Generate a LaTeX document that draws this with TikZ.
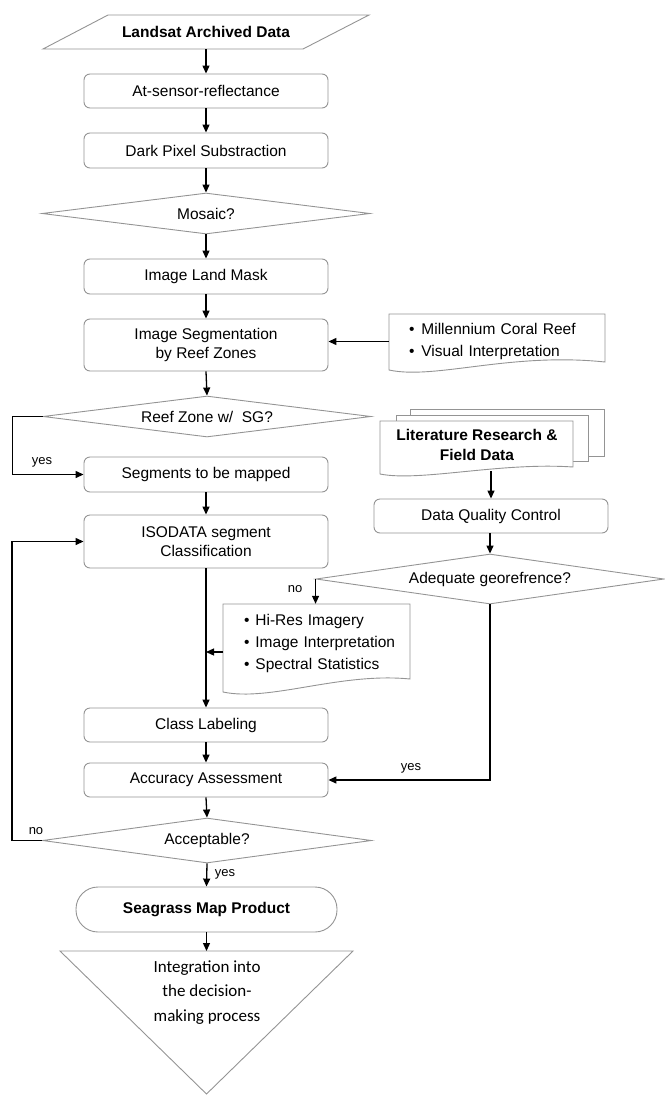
\documentclass[tikz,border=0pt]{standalone}
\usepackage{fontspec}
\setmainfont{Liberation Sans}
\newfontfamily\carl{Carlito}
\usetikzlibrary{shapes.geometric,arrows.meta,calc}
\begin{document}
\begin{tikzpicture}[x=1pt,y=-1pt,
  every node/.style={font=\fontsize{15.5}{19.5}\selectfont, inner sep=0pt},
  bord/.style={draw=black!42, line width=0.9pt},
  proc/.style={bord, rounded corners=6pt, minimum width=244pt, minimum height=34pt, align=center},
  dec/.style={bord, diamond, inner sep=0pt},
  bf/.style={font=\fontsize{15.5}{20.5}\selectfont\bfseries},
  arr/.style={line width=1.3pt, -{Triangle[length=8pt,width=7pt]}},
  lbl/.style={font=\fontsize{13}{15}\selectfont}
]
\useasboundingbox (0,0) rectangle (664,1095);

% Landsat input (parallelogram)
\draw[bord] (108,15) -- (369,15) -- (303,49) -- (43,49) -- cycle;
\node[bf, minimum height=34pt, minimum width=200pt] (land) at (206,32) {Landsat Archived Data};

\node[proc] (at) at (206,91) {At-sensor-reflectance};
\node[proc, minimum height=35pt] (dark) at (206,150.5) {Dark Pixel Substraction};
\node[dec, minimum width=328pt, minimum height=41pt, aspect=8] (mosaic) at (206,213.5) {Mosaic?};
\node[proc, minimum height=35pt] (mask) at (206,276.5) {Image Land Mask};
\node[proc, minimum height=52pt] (seg) at (206,345) {Image Segmentation\\by Reef Zones};

% Millennium document
\draw[bord, fill=white] (389,314) -- (605,314) -- (605,362) .. controls (510,352) and (435,380) .. (389,370) -- cycle;
\node[align=left, text width=176pt, minimum width=216pt, minimum height=48pt,
  font=\fontsize{15.5}{21.5}\selectfont] (mill) at (497,341.5)
  {\textbullet\hspace{7pt}Millennium Coral Reef\\\textbullet\hspace{7pt}Visual Interpretation};

\node[dec, minimum width=328pt, minimum height=41pt, aspect=8] (reef) at (207,416.5) {Reef Zone w/\ \ SG?};
\node[proc, minimum height=35pt] (segm) at (206,474.5) {Segments to be mapped};
\node[proc, minimum height=53pt] (iso) at (206,541.5) {ISODATA segment\\Classification};

% Literature stack
\draw[bord, fill=white] (410,409) rectangle (604,456);
\draw[bord, fill=white] (396,415) rectangle (588,461);
\draw[bord, fill=white] (380,421) -- (573,421) -- (573,467) .. controls (500,462) and (420,482) .. (380,474) -- cycle;
\node[bf, align=center, minimum height=52pt] (lit) at (477,445) {Literature Research \&\\Field Data};

\node[proc, minimum width=234pt] (dqc) at (491,516) {Data Quality Control};
\node[dec, minimum width=348pt, minimum height=50pt, aspect=7] (adeq) at (490,579) {Adequate georefrence?};

% Hi-Res document
\draw[bord] (223,604) -- (410,604) -- (410,679) .. controls (340,672) and (270,702) .. (223,692) -- cycle;
\node[align=left, text width=164pt, minimum width=187pt, minimum height=79pt,
  font=\fontsize{15.5}{22}\selectfont] (hires) at (326,643.5)
  {\textbullet\hspace{6pt}Hi-Res Imagery\\\textbullet\hspace{6pt}Image Interpretation\\\textbullet\hspace{6pt}Spectral Statistics};
\coordinate (hiresw) at (223,652);

\node[proc] (cls) at (206,725) {Class Labeling};
\node[proc] (acc) at (206,780) {Accuracy Assessment};
\node[dec, minimum width=329pt, minimum height=45pt, aspect=7.3] (accept) at (207,840.5) {Acceptable?};

\node[bord, bf, rounded corners=22pt, minimum width=261pt, minimum height=45pt] (sea) at (206.5,909.5) {Seagrass Map Product};

% Integration triangle
\draw[bord] (60,951) -- (353,951) -- (206.5,1094) -- cycle;
\coordinate (intop) at (206.5,951);
\node[font=\carl\fontsize{17}{24.5}\selectfont, align=center] (integ) at (207,992.5)
  {Integration into\\the decision-\\making process};

% connectors
\draw[arr] (land.south) -- (at.north);
\draw[arr] (at.south) -- (dark.north);
\draw[arr] (dark.south) -- (mosaic.north);
\draw[arr] (mosaic.south) -- (mask.north);
\draw[arr] (mask.south) -- (seg.north);
\draw[arr] (mill.west) -- (mill.west -| seg.east);
\draw[arr] (seg.south) -- (reef.north);
\draw[arr] (reef.west) -- ++(-30,0) |- (segm.west);
\node[lbl] (yes1) at (42,462) {yes};
\draw[arr] (segm.south) -- (iso.north);
\draw[arr] (iso.south) -- (cls.north);
\draw[arr] (hiresw) -- (hiresw -| iso.south);
\draw[arr] (lit.south -| dqc.north) -- (dqc.north);
\draw[arr] (dqc.south -| adeq.north) -- (adeq.north);
\draw[arr] (adeq.west) -- (adeq.west |- hires.north);
\node[lbl] (no1) at (295,589) {no};
\draw[arr] (adeq.south) |- (acc.east);
\node[lbl] (yes2) at (411,768) {yes};
\draw[arr] (cls.south) -- (acc.north);
\draw[arr] (acc.south) -- (accept.north);
\draw[arr] (accept.west) -- ++(-30,0) |- (iso.west);
\node[lbl] (no2) at (36,831) {no};
\draw[arr] (accept.south) -- (sea.north);
\node[lbl] (yes3) at (225,874) {yes};
\draw[arr] (sea.south) -- (intop);
\end{tikzpicture}
\end{document}
